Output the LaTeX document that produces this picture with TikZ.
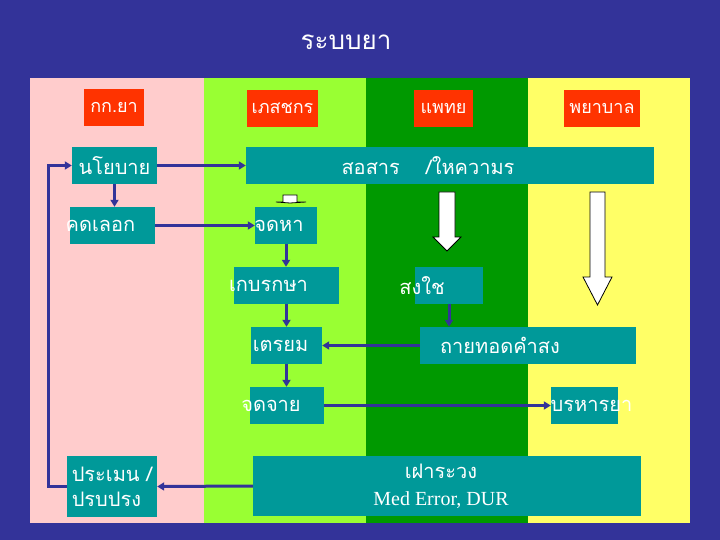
\documentclass[tikz,border=0pt]{standalone}
\usepackage{fontspec}
\setmainfont{Liberation Serif}
\newfontfamily\thaifont[Script=Thai]{Loma}
\usetikzlibrary{arrows.meta, positioning}
\definecolor{navy}{HTML}{333399}
\definecolor{pinkcol}{HTML}{FFCCCC}
\definecolor{limecol}{HTML}{99FF33}
\definecolor{greencol}{HTML}{009900}
\definecolor{yellowcol}{HTML}{FFFF66}
\definecolor{boxteal}{HTML}{009999}
\definecolor{headred}{HTML}{FF3300}

\begin{document}
\begin{tikzpicture}[
			x=1pt, y=-1pt,
			txt/.style={
					text=white,
					inner sep=0pt,
					font=\thaifont\fontsize{20}{25}\selectfont
				},
			head/.style={txt, fill=headred, minimum height=37pt,
					font=\thaifont\fontsize{18}{20}\selectfont},
			box/.style={fill=boxteal, inner sep=0pt, minimum height=37pt},
			flow/.style={draw=navy, line width=3pt, -{Triangle[length=7pt, width=8pt]}},
			blockarrow/.style={draw=black, fill=white, line width=0.8pt}
		]
		% background and the four columns
		\fill[navy] (0,0) rectangle (720,540);
		\fill[pinkcol] (30,78) rectangle (204,523);
		\fill[limecol] (204,78) rectangle (366,523);
		\fill[greencol] (366,78) rectangle (528,523);
		\fill[yellowcol] (528,78) rectangle (690,523);

		\node[txt, font=\thaifont\fontsize{26}{30}\selectfont] (title) at (346,42) {ระบบยา};

		\node[head, minimum width=60pt] (hcommittee) at (114,107.5) {กก.ยา};
		\node[head, minimum width=71pt] (hpharm) at (282.5,108.5) {เภสชกร};
		\node[head, minimum width=59pt] (hdoctor) at (443.5,108.5) {แพทย};
		\node[head, minimum width=76pt] (hnurse) at (602,108.5) {พยาบาล};

		\node[box, minimum width=85pt, label={[txt]center:นโยบาย}] (policy) at (114.5,165.5) {};
		\node[box, minimum width=408pt,
			label={[txt, xshift=-22pt]center:สอสาร\hspace{1.3em}/ใหความร}] (inform) at (450,165.5) {};
		\node[box, minimum width=85pt, label={[txt, xshift=-12pt]center:คดเลอก}] (select) at (112.5,225.5) {};
		\node[box, minimum width=62pt, label={[txt, xshift=-7pt]center:จดหา}] (procure) at (286,225.5) {};
		\node[box, minimum width=105pt, label={[txt, xshift=-18pt]center:เกบรกษา}] (store) at (286.5,285.5) {};
		\node[box, minimum width=68pt, label={[txt, xshift=-27pt]center:สงใช}] (order) at (449,285.5) {};
		\node[box, minimum width=71pt, label={[txt, xshift=-6pt]center:เตรยม}] (prepare) at (286.5,345.5) {};
		\node[box, minimum width=216pt, label={[txt, xshift=-28pt]center:ถายทอดคำสง}] (transcribe) at (528,345.5) {};
		\node[box, minimum width=74pt, label={[txt, xshift=-16pt]center:จดจาย}] (dispense) at (287,405.5) {};
		\node[box, minimum width=67pt, label={[txt, xshift=7pt]center:บรหารยา}] (administer) at (584.5,405.5) {};
		\node[box, minimum width=90pt, minimum height=61pt,
			label={[txt, align=left]center:ประเมน /\\ปรบปรง}] (assess) at (112,486.5) {};
		\node[box, minimum width=388pt, minimum height=60pt,
			label={[txt, align=center, xshift=-6pt]center:เฝาระวง\\[2pt]{\rmfamily\fontsize{20}{22}\selectfont Med Error, DUR}}] (monitor) at (447,486) {};

		% white block arrows
		\draw[blockarrow] (439,192) -- (455,192) -- (455,237) -- (461,237) -- (447,251)
		-- (433,237) -- (439,237) -- cycle;
		\draw[blockarrow] (590,192) -- (605,192) -- (605,277) -- (612,277) -- (597.5,305)
		-- (583,277) -- (590,277) -- cycle;
		\draw[blockarrow] (283,195) -- (297,195) -- (297,202) -- (306,202) -- (290,203)
		-- (276,202) -- (283,202) -- cycle;

		\draw[flow] (policy.east) -- (inform.west);
		\draw[flow] (policy.south) -- (policy.south |- select.north);
		\draw[flow] (select.east) -- (procure.west);
		\draw[flow] (procure.south) -- (procure.south |- store.north);
		\draw[flow] (store.south) -- (store.south |- prepare.north);
		\draw[flow] (order.south) -- (order.south |- transcribe.north);
		\draw[flow] (transcribe.west) -- (prepare.east);
		\draw[flow] (prepare.south) -- (prepare.south |- dispense.north);
		\draw[flow] (dispense.east) -- (administer.west);
		\draw[flow] (monitor.west) -- (assess.east);
		\draw[flow] (assess.west) -- ++(-18,0) |- (policy.west);
	\end{tikzpicture}
\end{document}
